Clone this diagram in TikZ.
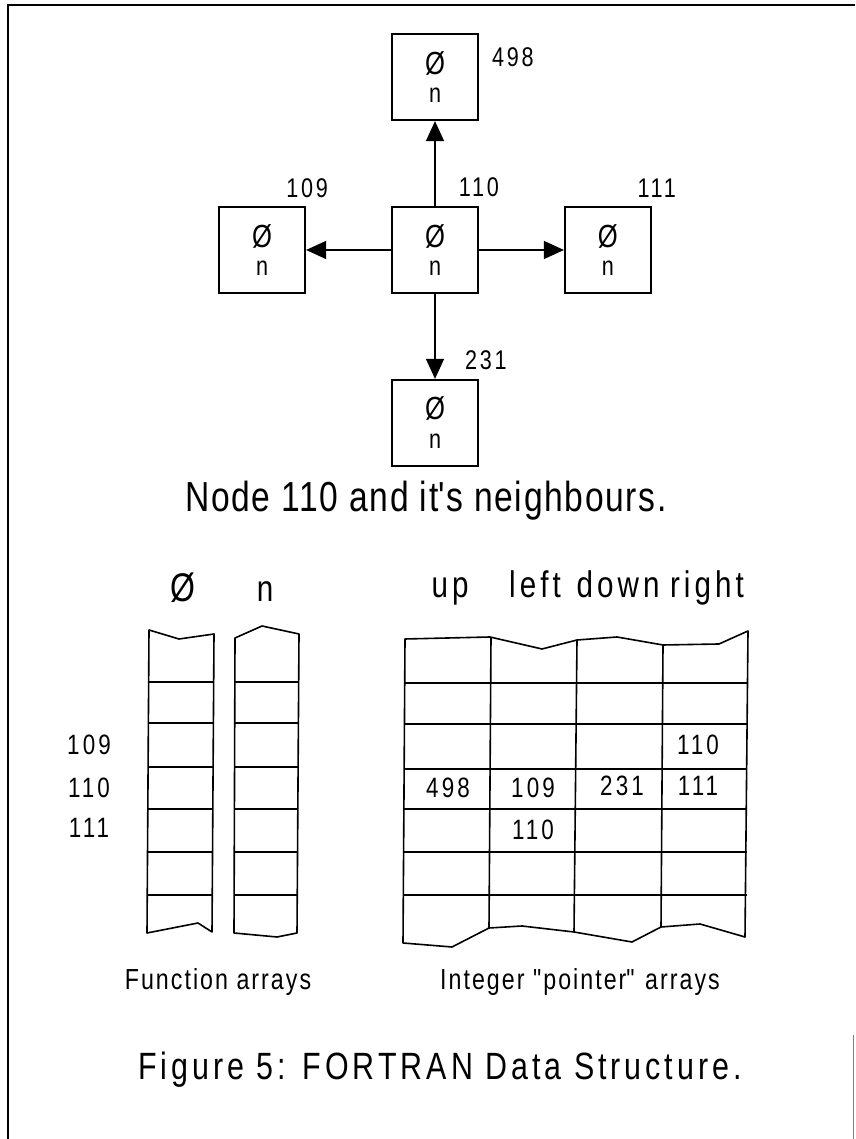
\documentclass[tikz,border=0pt]{standalone}
\usepackage{fontspec}
\setmainfont{Liberation Sans}[FakeStretch=0.8]
\usetikzlibrary{arrows.meta,positioning}
% plotter-like lettering: size, letter spacing
\newcommand{\pf}[2]{\fontsize{#1}{#1}\selectfont\addfontfeatures{LetterSpace=#2}}

\begin{document}
\begin{tikzpicture}[x=1pt,y=1pt,
  nbox/.style={draw,line width=1.8pt,minimum width=86pt,minimum height=86pt,inner sep=0pt,align=center,font=\fontsize{27}{28.5}\selectfont},
  num/.style={inner sep=0pt,font=\pf{27}{10}},
  cellnum/.style={inner sep=0pt,font=\pf{28}{11}},
  hdr/.style={inner sep=0pt,anchor=base,font=\pf{37}{11}},
  arr/.style={line width=1.6pt,line join=round},
  seta/.style={-{Triangle[length=20pt,width=18pt]},line width=1.3pt},
  node distance=85pt
]
\useasboundingbox (0,0) rectangle (855,1139);
% frame
\draw[line width=2.5pt] (8,0) -- (8,1134) -- (855,1134);
\draw[line width=0.6pt,gray] (853.5,0) -- (853.5,104);

% node 110 and its neighbours
\node[nbox] (mid) at (435,889) {{\fontsize{32}{28.5}\selectfont Ø}\\n};
\node[nbox,above=of mid] (up) {{\fontsize{32}{28.5}\selectfont Ø}\\n};
\node[nbox,left=of mid] (lft) {{\fontsize{32}{28.5}\selectfont Ø}\\n};
\node[nbox,right=of mid] (rgt) {{\fontsize{32}{28.5}\selectfont Ø}\\n};
\node[nbox,below=of mid] (dwn) {{\fontsize{32}{28.5}\selectfont Ø}\\n};
\node[num] (l110) at ([yshift=19pt]mid.north east) {110};
\node[num] (l498) at ([xshift=34pt,yshift=-24pt]up.north east) {498};
\node[num] (l109) at ([xshift=1pt,yshift=18pt]lft.north east) {109};
\node[num] (l111) at ([xshift=5pt,yshift=18pt]rgt.north east) {111};
\node[num] (l231) at ([xshift=7pt,yshift=19pt]dwn.north east) {231};
\draw[seta] (mid) -- (up);
\draw[seta] (mid) -- (lft);
\draw[seta] (mid) -- (rgt);
\draw[seta] (mid) -- (dwn);
\node[anchor=base,inner sep=0pt,font=\pf{42}{4}] (cap1) at (426,627) {Node 110 and it\textquotesingle s neighbours.};

% function arrays
\node[hdr,font=\pf{40}{0}] (hphi) at (183,537) {Ø};
\node[hdr] (hn) at (265,537) {n};
\draw[arr] (149,509) -- (179,500) -- (214,505) -- (212,207) -- (198,216) -- (147,206) -- cycle;
\foreach \y in {457,416,372,330,287,244} \draw[arr] (148,\y) -- (213,\y);
\draw[arr] (235,501) -- (262,513) -- (299,505) -- (297,206) -- (277,202) -- (234,206) -- cycle;
\foreach \y in {457,416,372,330,287,244} \draw[arr] (235,\y) -- (298,\y);
\node[cellnum] (r109) at (89,394) {109};
\node[cellnum] (r110) at (89,351) {110};
\node[cellnum] (r111) at (89,311) {111};

% pointer arrays
\node[hdr] (hup) at (450,541) {up};
\node[hdr] (hleft) at (535,541) {left};
\node[hdr] (hdown) at (618,541) {down};
\node[hdr] (hright) at (707,541) {right};
\draw[arr] (405,500) -- (490,502) -- (542,490) -- (577,499) -- (617,502) -- (663,494) -- (719,495) -- (748,508)
  -- (745,202) -- (700,215) -- (661,212) -- (632,197) -- (574,207) -- (522,213) -- (489,211) -- (452,192) -- (403,196) -- cycle;
\draw[arr] (491,502) -- (489,211);
\draw[arr] (577,499) -- (574,207);
\draw[arr] (663,494) -- (661,212);
\foreach \y in {456,415,370,330,287,244} \draw[arr] (404,\y) -- (747,\y);
\node[cellnum] (c498) at (448,351) {498};
\node[cellnum] (c109) at (533,351) {109};
\node[cellnum] (c231) at (622,353) {231};
\node[cellnum] (c111) at (698,353) {111};
\node[cellnum] (c110r) at (698,394) {110};
\node[cellnum] (c110l) at (533,309) {110};

% captions
\node[anchor=base,inner sep=0pt,font=\pf{29}{7}] (fa) at (218,149) {Function arrays};
\node[anchor=base,inner sep=0pt,font=\pf{29}{7}] (pa) at (580,149) {Integer \textquotedbl pointer\textquotedbl{} arrays};
\node[anchor=base,inner sep=0pt,font=\pf{38}{10.5}] (cap2) at (440,59) {Figure 5: FORTRAN Data Structure.};
\end{tikzpicture}
\end{document}
